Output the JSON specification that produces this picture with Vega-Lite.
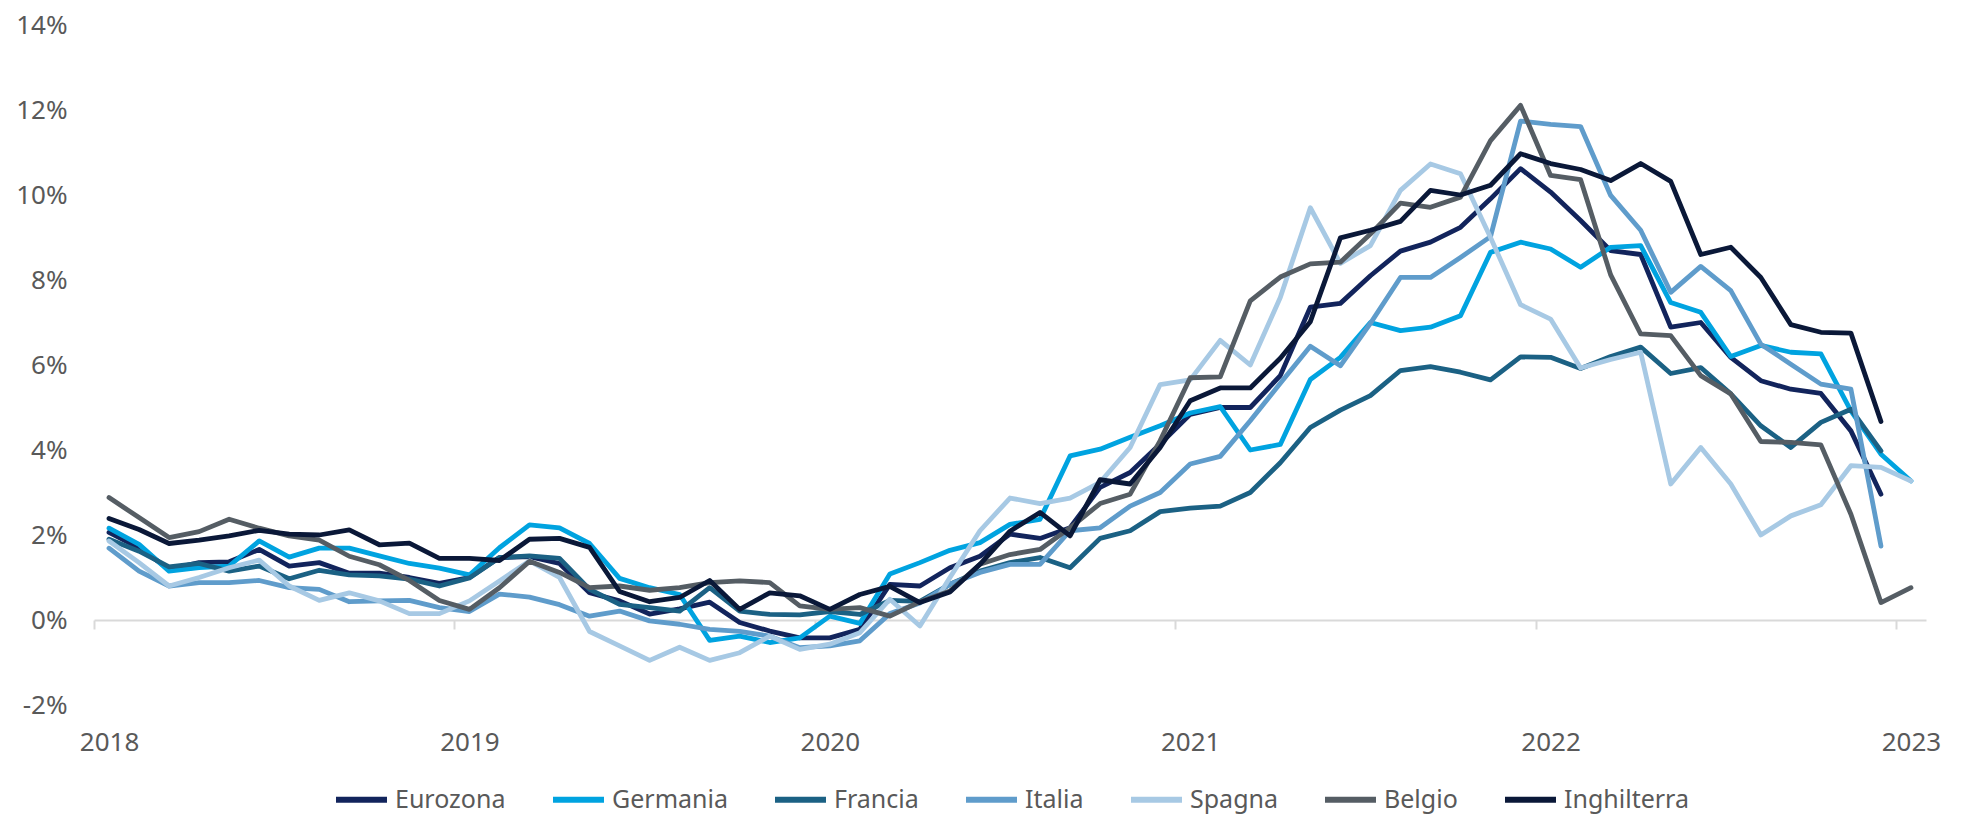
{
  "$schema": "https://vega.github.io/schema/vega-lite/v6.json",
  "width": 1832,
  "height": 680,
  "autosize": {"type": "none"},
  "padding": {"left": 94, "top": 25, "right": 40, "bottom": 109},
  "background": "white",
  "config": {"view": {"stroke": null}, "font": "Noto Sans"},
  "data": {"values": [
    {"month":"2018-01","country":"Eurozona","value":2.06},{"month":"2018-02","country":"Eurozona","value":1.70},{"month":"2018-03","country":"Eurozona","value":1.19},{"month":"2018-04","country":"Eurozona","value":1.35},{"month":"2018-05","country":"Eurozona","value":1.37},{"month":"2018-06","country":"Eurozona","value":1.66},{"month":"2018-07","country":"Eurozona","value":1.27},{"month":"2018-08","country":"Eurozona","value":1.35},{"month":"2018-09","country":"Eurozona","value":1.10},{"month":"2018-10","country":"Eurozona","value":1.10},{"month":"2018-11","country":"Eurozona","value":1.00},{"month":"2018-12","country":"Eurozona","value":0.86},
    {"month":"2019-01","country":"Eurozona","value":1.00},{"month":"2019-02","country":"Eurozona","value":1.47},{"month":"2019-03","country":"Eurozona","value":1.49},{"month":"2019-04","country":"Eurozona","value":1.33},{"month":"2019-05","country":"Eurozona","value":0.64},{"month":"2019-06","country":"Eurozona","value":0.45},{"month":"2019-07","country":"Eurozona","value":0.14},{"month":"2019-08","country":"Eurozona","value":0.26},{"month":"2019-09","country":"Eurozona","value":0.42},{"month":"2019-10","country":"Eurozona","value":-0.06},{"month":"2019-11","country":"Eurozona","value":-0.26},{"month":"2019-12","country":"Eurozona","value":-0.42},
    {"month":"2020-01","country":"Eurozona","value":-0.42},{"month":"2020-02","country":"Eurozona","value":-0.22},{"month":"2020-03","country":"Eurozona","value":0.84},{"month":"2020-04","country":"Eurozona","value":0.80},{"month":"2020-05","country":"Eurozona","value":1.23},{"month":"2020-06","country":"Eurozona","value":1.50},{"month":"2020-07","country":"Eurozona","value":2.02},{"month":"2020-08","country":"Eurozona","value":1.92},{"month":"2020-09","country":"Eurozona","value":2.17},{"month":"2020-10","country":"Eurozona","value":3.12},{"month":"2020-11","country":"Eurozona","value":3.47},{"month":"2020-12","country":"Eurozona","value":4.14},
    {"month":"2021-01","country":"Eurozona","value":4.84},{"month":"2021-02","country":"Eurozona","value":5.00},{"month":"2021-03","country":"Eurozona","value":5.00},{"month":"2021-04","country":"Eurozona","value":5.75},{"month":"2021-05","country":"Eurozona","value":7.36},{"month":"2021-06","country":"Eurozona","value":7.45},{"month":"2021-07","country":"Eurozona","value":8.10},{"month":"2021-08","country":"Eurozona","value":8.68},{"month":"2021-09","country":"Eurozona","value":8.89},{"month":"2021-10","country":"Eurozona","value":9.24},{"month":"2021-11","country":"Eurozona","value":9.91},{"month":"2021-12","country":"Eurozona","value":10.62},
    {"month":"2022-01","country":"Eurozona","value":10.07},{"month":"2022-02","country":"Eurozona","value":9.40},{"month":"2022-03","country":"Eurozona","value":8.69},{"month":"2022-04","country":"Eurozona","value":8.60},{"month":"2022-05","country":"Eurozona","value":6.89},{"month":"2022-06","country":"Eurozona","value":7.00},{"month":"2022-07","country":"Eurozona","value":6.18},{"month":"2022-08","country":"Eurozona","value":5.63},{"month":"2022-09","country":"Eurozona","value":5.43},{"month":"2022-10","country":"Eurozona","value":5.33},{"month":"2022-11","country":"Eurozona","value":4.45},{"month":"2022-12","country":"Eurozona","value":2.96},

    {"month":"2018-01","country":"Germania","value":2.16},{"month":"2018-02","country":"Germania","value":1.78},{"month":"2018-03","country":"Germania","value":1.15},{"month":"2018-04","country":"Germania","value":1.23},{"month":"2018-05","country":"Germania","value":1.27},{"month":"2018-06","country":"Germania","value":1.86},{"month":"2018-07","country":"Germania","value":1.48},{"month":"2018-08","country":"Germania","value":1.69},{"month":"2018-09","country":"Germania","value":1.69},{"month":"2018-10","country":"Germania","value":1.51},{"month":"2018-11","country":"Germania","value":1.33},{"month":"2018-12","country":"Germania","value":1.22},
    {"month":"2019-01","country":"Germania","value":1.06},{"month":"2019-02","country":"Germania","value":1.70},{"month":"2019-03","country":"Germania","value":2.24},{"month":"2019-04","country":"Germania","value":2.17},{"month":"2019-05","country":"Germania","value":1.80},{"month":"2019-06","country":"Germania","value":0.98},{"month":"2019-07","country":"Germania","value":0.76},{"month":"2019-08","country":"Germania","value":0.60},{"month":"2019-09","country":"Germania","value":-0.48},{"month":"2019-10","country":"Germania","value":-0.38},{"month":"2019-11","country":"Germania","value":-0.53},{"month":"2019-12","country":"Germania","value":-0.42},
    {"month":"2020-01","country":"Germania","value":0.09},{"month":"2020-02","country":"Germania","value":-0.08},{"month":"2020-03","country":"Germania","value":1.08},{"month":"2020-04","country":"Germania","value":1.35},{"month":"2020-05","country":"Germania","value":1.64},{"month":"2020-06","country":"Germania","value":1.82},{"month":"2020-07","country":"Germania","value":2.25},{"month":"2020-08","country":"Germania","value":2.37},{"month":"2020-09","country":"Germania","value":3.86},{"month":"2020-10","country":"Germania","value":4.02},{"month":"2020-11","country":"Germania","value":4.30},{"month":"2020-12","country":"Germania","value":4.57},
    {"month":"2021-01","country":"Germania","value":4.87},{"month":"2021-02","country":"Germania","value":5.02},{"month":"2021-03","country":"Germania","value":4.00},{"month":"2021-04","country":"Germania","value":4.13},{"month":"2021-05","country":"Germania","value":5.66},{"month":"2021-06","country":"Germania","value":6.18},{"month":"2021-07","country":"Germania","value":7.00},{"month":"2021-08","country":"Germania","value":6.81},{"month":"2021-09","country":"Germania","value":6.89},{"month":"2021-10","country":"Germania","value":7.16},{"month":"2021-11","country":"Germania","value":8.65},{"month":"2021-12","country":"Germania","value":8.89},
    {"month":"2022-01","country":"Germania","value":8.73},{"month":"2022-02","country":"Germania","value":8.30},{"month":"2022-03","country":"Germania","value":8.77},{"month":"2022-04","country":"Germania","value":8.81},{"month":"2022-05","country":"Germania","value":7.47},{"month":"2022-06","country":"Germania","value":7.24},{"month":"2022-07","country":"Germania","value":6.20},{"month":"2022-08","country":"Germania","value":6.46},{"month":"2022-09","country":"Germania","value":6.30},{"month":"2022-10","country":"Germania","value":6.26},{"month":"2022-11","country":"Germania","value":4.92},{"month":"2022-12","country":"Germania","value":3.90},{"month":"2023-01","country":"Germania","value":3.27},

    {"month":"2018-01","country":"Francia","value":1.90},{"month":"2018-02","country":"Francia","value":1.62},{"month":"2018-03","country":"Francia","value":1.25},{"month":"2018-04","country":"Francia","value":1.33},{"month":"2018-05","country":"Francia","value":1.15},{"month":"2018-06","country":"Francia","value":1.27},{"month":"2018-07","country":"Francia","value":0.97},{"month":"2018-08","country":"Francia","value":1.17},{"month":"2018-09","country":"Francia","value":1.06},{"month":"2018-10","country":"Francia","value":1.04},{"month":"2018-11","country":"Francia","value":0.96},{"month":"2018-12","country":"Francia","value":0.80},
    {"month":"2019-01","country":"Francia","value":0.99},{"month":"2019-02","country":"Francia","value":1.47},{"month":"2019-03","country":"Francia","value":1.51},{"month":"2019-04","country":"Francia","value":1.45},{"month":"2019-05","country":"Francia","value":0.72},{"month":"2019-06","country":"Francia","value":0.37},{"month":"2019-07","country":"Francia","value":0.29},{"month":"2019-08","country":"Francia","value":0.21},{"month":"2019-09","country":"Francia","value":0.76},{"month":"2019-10","country":"Francia","value":0.21},{"month":"2019-11","country":"Francia","value":0.13},{"month":"2019-12","country":"Francia","value":0.12},
    {"month":"2020-01","country":"Francia","value":0.20},{"month":"2020-02","country":"Francia","value":0.13},{"month":"2020-03","country":"Francia","value":0.46},{"month":"2020-04","country":"Francia","value":0.44},{"month":"2020-05","country":"Francia","value":0.84},{"month":"2020-06","country":"Francia","value":1.15},{"month":"2020-07","country":"Francia","value":1.35},{"month":"2020-08","country":"Francia","value":1.47},{"month":"2020-09","country":"Francia","value":1.23},{"month":"2020-10","country":"Francia","value":1.92},{"month":"2020-11","country":"Francia","value":2.10},{"month":"2020-12","country":"Francia","value":2.55},
    {"month":"2021-01","country":"Francia","value":2.63},{"month":"2021-02","country":"Francia","value":2.68},{"month":"2021-03","country":"Francia","value":3.00},{"month":"2021-04","country":"Francia","value":3.70},{"month":"2021-05","country":"Francia","value":4.53},{"month":"2021-06","country":"Francia","value":4.94},{"month":"2021-07","country":"Francia","value":5.28},{"month":"2021-08","country":"Francia","value":5.87},{"month":"2021-09","country":"Francia","value":5.96},{"month":"2021-10","country":"Francia","value":5.83},{"month":"2021-11","country":"Francia","value":5.65},{"month":"2021-12","country":"Francia","value":6.19},
    {"month":"2022-01","country":"Francia","value":6.18},{"month":"2022-02","country":"Francia","value":5.92},{"month":"2022-03","country":"Francia","value":6.20},{"month":"2022-04","country":"Francia","value":6.42},{"month":"2022-05","country":"Francia","value":5.80},{"month":"2022-06","country":"Francia","value":5.94},{"month":"2022-07","country":"Francia","value":5.32},{"month":"2022-08","country":"Francia","value":4.57},{"month":"2022-09","country":"Francia","value":4.06},{"month":"2022-10","country":"Francia","value":4.65},{"month":"2022-11","country":"Francia","value":4.96},{"month":"2022-12","country":"Francia","value":3.98},

    {"month":"2018-01","country":"Italia","value":1.69},{"month":"2018-02","country":"Italia","value":1.15},{"month":"2018-03","country":"Italia","value":0.80},{"month":"2018-04","country":"Italia","value":0.88},{"month":"2018-05","country":"Italia","value":0.88},{"month":"2018-06","country":"Italia","value":0.93},{"month":"2018-07","country":"Italia","value":0.76},{"month":"2018-08","country":"Italia","value":0.72},{"month":"2018-09","country":"Italia","value":0.43},{"month":"2018-10","country":"Italia","value":0.45},{"month":"2018-11","country":"Italia","value":0.46},{"month":"2018-12","country":"Italia","value":0.29},
    {"month":"2019-01","country":"Italia","value":0.20},{"month":"2019-02","country":"Italia","value":0.61},{"month":"2019-03","country":"Italia","value":0.54},{"month":"2019-04","country":"Italia","value":0.36},{"month":"2019-05","country":"Italia","value":0.09},{"month":"2019-06","country":"Italia","value":0.21},{"month":"2019-07","country":"Italia","value":-0.02},{"month":"2019-08","country":"Italia","value":-0.10},{"month":"2019-09","country":"Italia","value":-0.22},{"month":"2019-10","country":"Italia","value":-0.27},{"month":"2019-11","country":"Italia","value":-0.38},{"month":"2019-12","country":"Italia","value":-0.65},
    {"month":"2020-01","country":"Italia","value":-0.61},{"month":"2020-02","country":"Italia","value":-0.49},{"month":"2020-03","country":"Italia","value":0.15},{"month":"2020-04","country":"Italia","value":0.40},{"month":"2020-05","country":"Italia","value":0.84},{"month":"2020-06","country":"Italia","value":1.12},{"month":"2020-07","country":"Italia","value":1.31},{"month":"2020-08","country":"Italia","value":1.31},{"month":"2020-09","country":"Italia","value":2.10},{"month":"2020-10","country":"Italia","value":2.17},{"month":"2020-11","country":"Italia","value":2.68},{"month":"2020-12","country":"Italia","value":3.00},
    {"month":"2021-01","country":"Italia","value":3.67},{"month":"2021-02","country":"Italia","value":3.85},{"month":"2021-03","country":"Italia","value":4.69},{"month":"2021-04","country":"Italia","value":5.57},{"month":"2021-05","country":"Italia","value":6.44},{"month":"2021-06","country":"Italia","value":5.98},{"month":"2021-07","country":"Italia","value":6.98},{"month":"2021-08","country":"Italia","value":8.06},{"month":"2021-09","country":"Italia","value":8.06},{"month":"2021-10","country":"Italia","value":8.53},{"month":"2021-11","country":"Italia","value":9.02},{"month":"2021-12","country":"Italia","value":11.74},
    {"month":"2022-01","country":"Italia","value":11.66},{"month":"2022-02","country":"Italia","value":11.61},{"month":"2022-03","country":"Italia","value":9.99},{"month":"2022-04","country":"Italia","value":9.17},{"month":"2022-05","country":"Italia","value":7.71},{"month":"2022-06","country":"Italia","value":8.32},{"month":"2022-07","country":"Italia","value":7.75},{"month":"2022-08","country":"Italia","value":6.49},{"month":"2022-09","country":"Italia","value":6.02},{"month":"2022-10","country":"Italia","value":5.55},{"month":"2022-11","country":"Italia","value":5.43},{"month":"2022-12","country":"Italia","value":1.74},

    {"month":"2018-01","country":"Spagna","value":1.86},{"month":"2018-02","country":"Spagna","value":1.35},{"month":"2018-03","country":"Spagna","value":0.80},{"month":"2018-04","country":"Spagna","value":1.00},{"month":"2018-05","country":"Spagna","value":1.23},{"month":"2018-06","country":"Spagna","value":1.41},{"month":"2018-07","country":"Spagna","value":0.80},{"month":"2018-08","country":"Spagna","value":0.46},{"month":"2018-09","country":"Spagna","value":0.64},{"month":"2018-10","country":"Spagna","value":0.45},{"month":"2018-11","country":"Spagna","value":0.15},{"month":"2018-12","country":"Spagna","value":0.15},
    {"month":"2019-01","country":"Spagna","value":0.45},{"month":"2019-02","country":"Spagna","value":0.92},{"month":"2019-03","country":"Spagna","value":1.39},{"month":"2019-04","country":"Spagna","value":1.00},{"month":"2019-05","country":"Spagna","value":-0.27},{"month":"2019-06","country":"Spagna","value":-0.61},{"month":"2019-07","country":"Spagna","value":-0.95},{"month":"2019-08","country":"Spagna","value":-0.64},{"month":"2019-09","country":"Spagna","value":-0.95},{"month":"2019-10","country":"Spagna","value":-0.77},{"month":"2019-11","country":"Spagna","value":-0.38},{"month":"2019-12","country":"Spagna","value":-0.69},
    {"month":"2020-01","country":"Spagna","value":-0.57},{"month":"2020-02","country":"Spagna","value":-0.30},{"month":"2020-03","country":"Spagna","value":0.49},{"month":"2020-04","country":"Spagna","value":-0.14},{"month":"2020-05","country":"Spagna","value":1.00},{"month":"2020-06","country":"Spagna","value":2.10},{"month":"2020-07","country":"Spagna","value":2.87},{"month":"2020-08","country":"Spagna","value":2.74},{"month":"2020-09","country":"Spagna","value":2.87},{"month":"2020-10","country":"Spagna","value":3.24},{"month":"2020-11","country":"Spagna","value":4.06},{"month":"2020-12","country":"Spagna","value":5.54},
    {"month":"2021-01","country":"Spagna","value":5.65},{"month":"2021-02","country":"Spagna","value":6.58},{"month":"2021-03","country":"Spagna","value":6.00},{"month":"2021-04","country":"Spagna","value":7.59},{"month":"2021-05","country":"Spagna","value":9.70},{"month":"2021-06","country":"Spagna","value":8.39},{"month":"2021-07","country":"Spagna","value":8.81},{"month":"2021-08","country":"Spagna","value":10.11},{"month":"2021-09","country":"Spagna","value":10.73},{"month":"2021-10","country":"Spagna","value":10.50},{"month":"2021-11","country":"Spagna","value":9.00},{"month":"2021-12","country":"Spagna","value":7.42},
    {"month":"2022-01","country":"Spagna","value":7.08},{"month":"2022-02","country":"Spagna","value":5.93},{"month":"2022-03","country":"Spagna","value":6.13},{"month":"2022-04","country":"Spagna","value":6.30},{"month":"2022-05","country":"Spagna","value":3.20},{"month":"2022-06","country":"Spagna","value":4.06},{"month":"2022-07","country":"Spagna","value":3.20},{"month":"2022-08","country":"Spagna","value":2.00},{"month":"2022-09","country":"Spagna","value":2.45},{"month":"2022-10","country":"Spagna","value":2.71},{"month":"2022-11","country":"Spagna","value":3.63},{"month":"2022-12","country":"Spagna","value":3.59},{"month":"2023-01","country":"Spagna","value":3.27},

    {"month":"2018-01","country":"Belgio","value":2.88},{"month":"2018-02","country":"Belgio","value":2.41},{"month":"2018-03","country":"Belgio","value":1.94},{"month":"2018-04","country":"Belgio","value":2.08},{"month":"2018-05","country":"Belgio","value":2.37},{"month":"2018-06","country":"Belgio","value":2.16},{"month":"2018-07","country":"Belgio","value":1.98},{"month":"2018-08","country":"Belgio","value":1.88},{"month":"2018-09","country":"Belgio","value":1.50},{"month":"2018-10","country":"Belgio","value":1.30},{"month":"2018-11","country":"Belgio","value":0.93},{"month":"2018-12","country":"Belgio","value":0.46},
    {"month":"2019-01","country":"Belgio","value":0.25},{"month":"2019-02","country":"Belgio","value":0.76},{"month":"2019-03","country":"Belgio","value":1.38},{"month":"2019-04","country":"Belgio","value":1.12},{"month":"2019-05","country":"Belgio","value":0.76},{"month":"2019-06","country":"Belgio","value":0.80},{"month":"2019-07","country":"Belgio","value":0.70},{"month":"2019-08","country":"Belgio","value":0.76},{"month":"2019-09","country":"Belgio","value":0.88},{"month":"2019-10","country":"Belgio","value":0.92},{"month":"2019-11","country":"Belgio","value":0.88},{"month":"2019-12","country":"Belgio","value":0.33},
    {"month":"2020-01","country":"Belgio","value":0.25},{"month":"2020-02","country":"Belgio","value":0.29},{"month":"2020-03","country":"Belgio","value":0.09},{"month":"2020-04","country":"Belgio","value":0.43},{"month":"2020-05","country":"Belgio","value":0.68},{"month":"2020-06","country":"Belgio","value":1.31},{"month":"2020-07","country":"Belgio","value":1.54},{"month":"2020-08","country":"Belgio","value":1.66},{"month":"2020-09","country":"Belgio","value":2.17},{"month":"2020-10","country":"Belgio","value":2.74},{"month":"2020-11","country":"Belgio","value":2.96},{"month":"2020-12","country":"Belgio","value":4.22},
    {"month":"2021-01","country":"Belgio","value":5.70},{"month":"2021-02","country":"Belgio","value":5.72},{"month":"2021-03","country":"Belgio","value":7.51},{"month":"2021-04","country":"Belgio","value":8.07},{"month":"2021-05","country":"Belgio","value":8.38},{"month":"2021-06","country":"Belgio","value":8.42},{"month":"2021-07","country":"Belgio","value":9.08},{"month":"2021-08","country":"Belgio","value":9.81},{"month":"2021-09","country":"Belgio","value":9.71},{"month":"2021-10","country":"Belgio","value":9.95},{"month":"2021-11","country":"Belgio","value":11.28},{"month":"2021-12","country":"Belgio","value":12.11},
    {"month":"2022-01","country":"Belgio","value":10.46},{"month":"2022-02","country":"Belgio","value":10.36},{"month":"2022-03","country":"Belgio","value":8.12},{"month":"2022-04","country":"Belgio","value":6.73},{"month":"2022-05","country":"Belgio","value":6.69},{"month":"2022-06","country":"Belgio","value":5.75},{"month":"2022-07","country":"Belgio","value":5.32},{"month":"2022-08","country":"Belgio","value":4.20},{"month":"2022-09","country":"Belgio","value":4.18},{"month":"2022-10","country":"Belgio","value":4.12},{"month":"2022-11","country":"Belgio","value":2.49},{"month":"2022-12","country":"Belgio","value":0.41},{"month":"2023-01","country":"Belgio","value":0.76},

    {"month":"2018-01","country":"Inghilterra","value":2.39},{"month":"2018-02","country":"Inghilterra","value":2.13},{"month":"2018-03","country":"Inghilterra","value":1.80},{"month":"2018-04","country":"Inghilterra","value":1.88},{"month":"2018-05","country":"Inghilterra","value":1.98},{"month":"2018-06","country":"Inghilterra","value":2.11},{"month":"2018-07","country":"Inghilterra","value":2.02},{"month":"2018-08","country":"Inghilterra","value":2.00},{"month":"2018-09","country":"Inghilterra","value":2.12},{"month":"2018-10","country":"Inghilterra","value":1.77},{"month":"2018-11","country":"Inghilterra","value":1.81},{"month":"2018-12","country":"Inghilterra","value":1.45},
    {"month":"2019-01","country":"Inghilterra","value":1.45},{"month":"2019-02","country":"Inghilterra","value":1.40},{"month":"2019-03","country":"Inghilterra","value":1.90},{"month":"2019-04","country":"Inghilterra","value":1.92},{"month":"2019-05","country":"Inghilterra","value":1.71},{"month":"2019-06","country":"Inghilterra","value":0.67},{"month":"2019-07","country":"Inghilterra","value":0.43},{"month":"2019-08","country":"Inghilterra","value":0.53},{"month":"2019-09","country":"Inghilterra","value":0.93},{"month":"2019-10","country":"Inghilterra","value":0.25},{"month":"2019-11","country":"Inghilterra","value":0.64},{"month":"2019-12","country":"Inghilterra","value":0.57},
    {"month":"2020-01","country":"Inghilterra","value":0.25},{"month":"2020-02","country":"Inghilterra","value":0.60},{"month":"2020-03","country":"Inghilterra","value":0.79},{"month":"2020-04","country":"Inghilterra","value":0.41},{"month":"2020-05","country":"Inghilterra","value":0.66},{"month":"2020-06","country":"Inghilterra","value":1.31},{"month":"2020-07","country":"Inghilterra","value":2.09},{"month":"2020-08","country":"Inghilterra","value":2.53},{"month":"2020-09","country":"Inghilterra","value":1.98},{"month":"2020-10","country":"Inghilterra","value":3.30},{"month":"2020-11","country":"Inghilterra","value":3.20},{"month":"2020-12","country":"Inghilterra","value":4.06},
    {"month":"2021-01","country":"Inghilterra","value":5.16},{"month":"2021-02","country":"Inghilterra","value":5.46},{"month":"2021-03","country":"Inghilterra","value":5.46},{"month":"2021-04","country":"Inghilterra","value":6.16},{"month":"2021-05","country":"Inghilterra","value":7.02},{"month":"2021-06","country":"Inghilterra","value":8.99},{"month":"2021-07","country":"Inghilterra","value":9.17},{"month":"2021-08","country":"Inghilterra","value":9.38},{"month":"2021-09","country":"Inghilterra","value":10.11},{"month":"2021-10","country":"Inghilterra","value":10.00},{"month":"2021-11","country":"Inghilterra","value":10.23},{"month":"2021-12","country":"Inghilterra","value":10.97},
    {"month":"2022-01","country":"Inghilterra","value":10.74},{"month":"2022-02","country":"Inghilterra","value":10.60},{"month":"2022-03","country":"Inghilterra","value":10.34},{"month":"2022-04","country":"Inghilterra","value":10.74},{"month":"2022-05","country":"Inghilterra","value":10.32},{"month":"2022-06","country":"Inghilterra","value":8.60},{"month":"2022-07","country":"Inghilterra","value":8.77},{"month":"2022-08","country":"Inghilterra","value":8.06},{"month":"2022-09","country":"Inghilterra","value":6.95},{"month":"2022-10","country":"Inghilterra","value":6.77},{"month":"2022-11","country":"Inghilterra","value":6.75},{"month":"2022-12","country":"Inghilterra","value":4.67}
  ]},
  "mark": {"type": "line", "strokeWidth": 4.8, "strokeCap": "round", "strokeJoin": "round"},
  "encoding": {
    "x": {
      "field": "month",
      "type": "ordinal",
      "scale": {"type": "point", "padding": 0.5},
      "axis": {
        "title": null,
        "values": ["2018-01", "2019-01", "2020-01", "2021-01", "2022-01", "2023-01"],
        "labelExpr": "slice(datum.value, 0, 4)",
        "labelAngle": 0,
        "offset": -85,
        "tickSize": 9,
        "tickOffset": -15,
        "labelOffset": 15,
        "labelPadding": 100,
        "labelOverlap": false,
        "domainColor": "#d9d9d9",
        "domainWidth": 2,
        "tickColor": "#d9d9d9",
        "tickWidth": 2,
        "labelFont": "Noto Sans",
        "labelFontSize": 26,
        "labelColor": "#595959",
        "grid": false
      }
    },
    "y": {
      "field": "value",
      "type": "quantitative",
      "scale": {"domain": [-2, 14], "nice": false, "zero": false},
      "axis": {
        "title": null,
        "values": [-2, 0, 2, 4, 6, 8, 10, 12, 14],
        "labelExpr": "datum.value + '%'",
        "domain": false,
        "ticks": false,
        "grid": false,
        "labelPadding": 27,
        "labelOverlap": false,
        "labelFont": "Noto Sans",
        "labelFontSize": 26,
        "labelColor": "#595959"
      }
    },
    "color": {
      "field": "country",
      "type": "nominal",
      "scale": {
        "domain": ["Eurozona", "Germania", "Francia", "Italia", "Spagna", "Belgio", "Inghilterra"],
        "range": ["#12245c", "#00a3e0", "#1b6184", "#5f9ccb", "#a7c9e4", "#555d64", "#0a1838"]
      },
      "legend": {
        "title": null,
        "orient": "none",
        "direction": "horizontal",
        "columns": 7,
        "legendX": 239,
        "legendY": 746,
        "padding": 0,
        "symbolType": "stroke",
        "symbolSize": 2600,
        "symbolStrokeWidth": 6,
        "labelOffset": 5,
        "columnPadding": 35,
        "labelFont": "Noto Sans",
        "labelFontSize": 25,
        "labelColor": "#595959",
        "labelLimit": 300
      }
    }
  }
}
